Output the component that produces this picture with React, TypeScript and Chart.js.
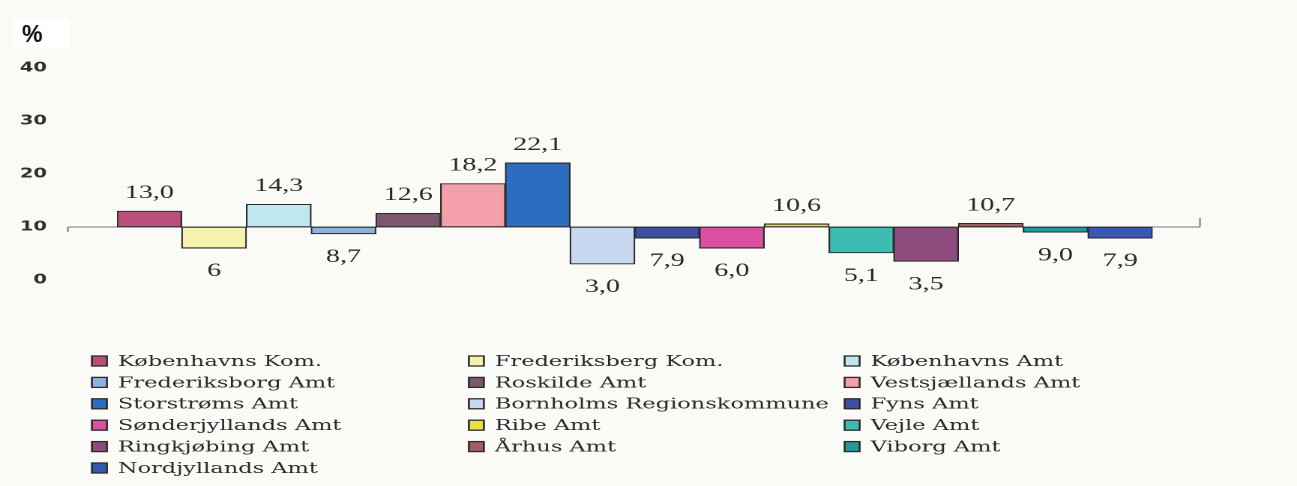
import React, { useEffect, useRef } from "react";
import { Chart, registerables } from "chart.js";

Chart.register(...registerables);

const categories = [
  "Københavns Kom.",
  "Frederiksberg Kom.",
  "Københavns Amt",
  "Frederiksborg Amt",
  "Roskilde Amt",
  "Vestsjællands Amt",
  "Storstrøms Amt",
  "Bornholms Regionskommune",
  "Fyns Amt",
  "Sønderjyllands Amt",
  "Ribe Amt",
  "Vejle Amt",
  "Ringkjøbing Amt",
  "Århus Amt",
  "Viborg Amt",
  "Nordjyllands Amt",
];
const values = [13.0, 6, 14.3, 8.7, 12.6, 18.2, 22.1, 3.0, 7.9, 6.0, 10.6, 5.1, 3.5, 10.7, 9.0, 7.9];
const valueLabels = ["13,0", "6", "14,3", "8,7", "12,6", "18,2", "22,1", "3,0", "7,9", "6,0", "10,6", "5,1", "3,5", "10,7", "9,0", "7,9"];
const baseline = 10;
const yTicks = [0, 10, 20, 30, 40];
const colors = [
  "#B9507C",
  "#F6F2AE",
  "#BFE8EE",
  "#8EB1E0",
  "#7B566F",
  "#F3A0AA",
  "#2D6DBF",
  "#C8D7F0",
  "#3E4EA0",
  "#DD4FA0",
  "#E9E142",
  "#3DBDB1",
  "#8E4B7E",
  "#A05F60",
  "#21999A",
  "#3558B1",
];

const BG = "#FAFAF6";
const W = 865;
const H = 486;
const S = 1297 / W;

const baselinePlugin = {
  id: "baselinePlugin",
  beforeDatasetsDraw(chart: any) {
    const { ctx, chartArea } = chart;
    const y = chart.scales.y.getPixelForValue(baseline);
    const x0 = chartArea.left - 32.7;
    const x1 = chartArea.right + 31.6;
    ctx.save();
    ctx.strokeStyle = "#7a7a7a";
    ctx.lineWidth = 1;
    ctx.beginPath();
    ctx.moveTo(x0, y);
    ctx.lineTo(x1, y);
    ctx.moveTo(x0, y);
    ctx.lineTo(x0, y + 5);
    ctx.moveTo(x1, y);
    ctx.lineTo(x1, y - 9);
    ctx.stroke();
    ctx.restore();
  },
};

const valueLabelPlugin = {
  id: "valueLabelPlugin",
  afterDatasetsDraw(chart: any) {
    const { ctx } = chart;
    const meta = chart.getDatasetMeta(0);
    ctx.save();
    ctx.font = '18.7px "Liberation Serif", "Times New Roman", serif';
    ctx.fillStyle = "#2a2a2a";
    ctx.textAlign = "center";
    ctx.textBaseline = "alphabetic";
    meta.data.forEach((bar: any, i: number) => {
      const p = bar.getProps(["x", "y", "base"], true);
      const top = Math.min(p.y, p.base);
      const bottom = Math.max(p.y, p.base);
      if (values[i] >= baseline) {
        ctx.fillText(valueLabels[i], p.x, top - 13);
      } else {
        ctx.fillText(valueLabels[i], p.x, bottom + 28);
      }
    });
    ctx.restore();
  },
};

const legendCols = [61.3, 312.7, 563.3];
const legendTop = 361;
const legendRowH = 21.4;

const gridLegendPlugin = {
  id: "gridLegendPlugin",
  afterDraw(chart: any) {
    const { ctx } = chart;
    ctx.save();
    ctx.font = '15px "DejaVu Serif", serif';
    ctx.textBaseline = "middle";
    ctx.textAlign = "left";
    categories.forEach((c, i) => {
      const col = i % 3;
      const row = Math.floor(i / 3);
      const x = legendCols[col];
      const y = legendTop + row * legendRowH;
      ctx.fillStyle = colors[i];
      ctx.fillRect(x, y - 5, 10, 10);
      ctx.strokeStyle = "#2b2b2b";
      ctx.lineWidth = 1.3;
      ctx.strokeRect(x, y - 5, 10, 10);
      ctx.fillStyle = "#2a2a2a";
      ctx.fillText(c, x + 17.3, y + 1);
    });
    ctx.restore();
  },
};

export default function App() {
  const ref = useRef<HTMLCanvasElement | null>(null);

  useEffect(() => {
    if (!ref.current) return;
    const chart = new Chart(ref.current, {
      type: "bar",
      data: {
        labels: categories,
        datasets: [
          {
            data: values.map((v) => [baseline, v]) as any,
            backgroundColor: colors,
            borderColor: "#2b2b2b",
            borderWidth: 1.1,
            borderSkipped: false,
            barPercentage: 1,
            categoryPercentage: 1,
          },
        ],
      },
      options: {
        animation: false,
        responsive: false,
        devicePixelRatio: 2,
        events: [],
        layout: {
          padding: { left: 0, right: W - 768.7, top: 68, bottom: H - 280 },
        },
        plugins: {
          legend: { display: false },
          tooltip: { enabled: false },
          title: { display: false },
        },
        scales: {
          x: {
            display: false,
          },
          y: {
            min: 0,
            max: 40,
            afterBuildTicks: (axis: any) => {
              axis.ticks = yTicks.map((v) => ({ value: v }));
            },
            afterFit: (axis: any) => {
              axis.width = 78;
            },
            grid: { display: false, drawTicks: false },
            border: { display: false },
            ticks: {
              padding: 46.7,
              color: "#303030",
              font: { family: '"DejaVu Sans", sans-serif', weight: "bold", size: 13 },
            },
          },
        },
      },
      plugins: [baselinePlugin, valueLabelPlugin, gridLegendPlugin],
    });
    return () => chart.destroy();
  }, []);

  return (
    <div
      style={{
        position: "fixed",
        left: 0,
        top: 0,
        width: 1297,
        height: H,
        background: BG,
        overflow: "hidden",
      }}
    >
      <div
        style={{
          position: "absolute",
          left: 0,
          top: 0,
          width: W,
          height: H,
          transform: `scaleX(${S})`,
          transformOrigin: "0 0",
        }}
      >
        <canvas ref={ref} width={W} height={H} style={{ display: "block" }} />
      </div>
      <div
        style={{
          position: "absolute",
          left: 13,
          top: 19,
          width: 57,
          height: 30,
          background: "#ffffff",
          color: "#111111",
          font: 'bold 23px "Liberation Sans", Arial, sans-serif',
          lineHeight: "30px",
          paddingLeft: 9,
          boxSizing: "border-box",
        }}
      >
        %
      </div>
    </div>
  );
}
